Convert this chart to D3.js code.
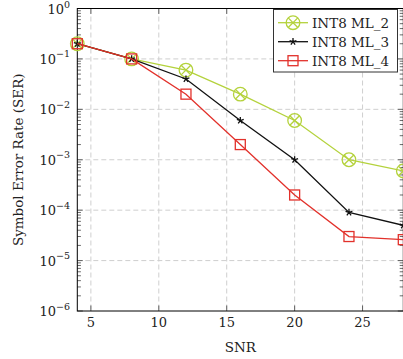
<!DOCTYPE html>
<html><head><meta charset="utf-8">
<script src="https://cdn.jsdelivr.net/npm/d3@7"></script>
<style>
html,body{margin:0;padding:0;background:#fff;}
svg{display:block;}
text{font-family:"DejaVu Serif",serif;fill:#222;}
</style></head>
<body>
<script>
const snr = [4, 8, 12, 16, 20, 24, 28];
const ml2 = [0.2, 0.1, 0.06, 0.02, 0.006, 0.001, 0.0006];
const ml3 = [0.2, 0.1, 0.04, 0.006, 0.001, 9e-5, 5e-5];
const ml4 = [0.2, 0.1, 0.02, 0.002, 2e-4, 3e-5, 2.6e-5];
const seriesNames = ["INT8 ML_2", "INT8 ML_3", "INT8 ML_4"];
const xTicks = [5, 10, 15, 20, 25];
const yExps = [0, -1, -2, -3, -4, -5, -6];

const W = 403, H = 359;
const L = 77.3, R = 403.3, T = 8.5, B = 311;
const svg = d3.select("body").append("svg").attr("width", W).attr("height", H);

const x = d3.scaleLinear().domain([4, 28]).range([L, R]);
const y = d3.scaleLog().domain([1e-6, 1]).range([B, T]);

const colors = ["#b4d23c", "#111111", "#e2312b"];
const data = [ml2, ml3, ml4];

// grid
const grid = svg.append("g").attr("stroke", "#cfcfcf").attr("stroke-width", 1).attr("stroke-dasharray", "5,3");
xTicks.forEach(t => grid.append("line").attr("x1", x(t)).attr("x2", x(t)).attr("y1", T).attr("y2", B));
yExps.slice(1, -1).forEach(e => grid.append("line").attr("x1", L).attr("x2", R).attr("y1", y(Math.pow(10, e))).attr("y2", y(Math.pow(10, e))));

// ticks
const tk = svg.append("g").attr("stroke", "#444").attr("stroke-width", 0.8);
xTicks.forEach(t => {
  tk.append("line").attr("x1", x(t)).attr("x2", x(t)).attr("y1", B).attr("y2", B - 5.5);
  tk.append("line").attr("x1", x(t)).attr("x2", x(t)).attr("y1", T).attr("y2", T + 5.5);
});
yExps.forEach(e => {
  const v = Math.pow(10, e);
  tk.append("line").attr("x1", L).attr("x2", L + 5.5).attr("y1", y(v)).attr("y2", y(v));
  tk.append("line").attr("x1", R).attr("x2", R - 5.5).attr("y1", y(v)).attr("y2", y(v));
  if (e > -6) {
    for (let m = 2; m <= 9; m++) {
      const mv = v / 10 * m;
      tk.append("line").attr("x1", L).attr("x2", L + 3.6).attr("y1", y(mv)).attr("y2", y(mv));
      tk.append("line").attr("x1", R).attr("x2", R - 3.6).attr("y1", y(mv)).attr("y2", y(mv));
    }
  }
});

// axes frame
const fr = svg.append("g").attr("stroke", "#000").attr("stroke-width", 1).attr("fill", "none");
fr.append("rect").attr("x", L).attr("y", T).attr("width", R - L).attr("height", B - T);

// tick labels
xTicks.forEach(t => svg.append("text").attr("x", x(t)).attr("y", B + 16).attr("text-anchor", "middle")
  .attr("font-size", 13).text(t));
yExps.forEach(e => {
  const tx = svg.append("text").attr("x", 70).attr("y", y(Math.pow(10, e)) + 5).attr("text-anchor", "end").attr("font-size", 13);
  tx.append("tspan").text("10");
  tx.append("tspan").attr("dy", e === 0 ? -5.5 : -6.5).attr("font-size", 9.5).text(e === 0 ? "0" : "\u2212" + (-e));
});

// axis labels
svg.append("text").attr("x", (L + R) / 2).attr("y", 352).attr("text-anchor", "middle").attr("font-size", 13.5).text("SNR");
svg.append("text").attr("transform", `translate(23,${(T + B) / 2}) rotate(-90)`).attr("text-anchor", "middle")
  .attr("font-size", 13.5).text("Symbol Error Rate (SER)");

// markers
function otimes(g, cx, cy, c) {
  const r = 6.8, d = r * Math.SQRT1_2;
  g.append("circle").attr("cx", cx).attr("cy", cy).attr("r", r).attr("fill", "none").attr("stroke", c).attr("stroke-width", 1.3);
  g.append("line").attr("x1", cx - d).attr("y1", cy - d).attr("x2", cx + d).attr("y2", cy + d).attr("stroke", c).attr("stroke-width", 1.3);
  g.append("line").attr("x1", cx - d).attr("y1", cy + d).attr("x2", cx + d).attr("y2", cy - d).attr("stroke", c).attr("stroke-width", 1.3);
}
function star(g, cx, cy, c) {
  const r = 3.6;
  let p = "";
  for (let k = 0; k < 5; k++) {
    const a = -Math.PI / 2 + k * 2 * Math.PI / 5;
    p += `M${cx},${cy}L${cx + r * Math.cos(a)},${cy + r * Math.sin(a)}`;
  }
  g.append("path").attr("d", p).attr("stroke", c).attr("stroke-width", 1.3).attr("fill", "none");
}
function square(g, cx, cy, c) {
  const s = 10;
  g.append("rect").attr("x", cx - s / 2).attr("y", cy - s / 2).attr("width", s).attr("height", s)
    .attr("fill", "none").attr("stroke", c).attr("stroke-width", 1.3);
}
const markers = [otimes, star, square];

const line = d3.line().x((d, i) => x(snr[i])).y(d => y(d));
const plot = svg.append("g");
data.forEach((vals, si) => {
  plot.append("path").attr("d", line(vals)).attr("fill", "none").attr("stroke", colors[si]).attr("stroke-width", 1.3);
  vals.forEach((v, i) => markers[si](plot, x(snr[i]), y(v), colors[si]));
});

// legend
const lg = svg.append("g");
lg.append("rect").attr("x", 273.5).attr("y", 9.5).attr("width", 124).attr("height", 62.5)
  .attr("fill", "#fff").attr("stroke", "#333").attr("stroke-width", 1);
seriesNames.forEach((n, i) => {
  const yy = 22.7 + i * 19;
  lg.append("line").attr("x1", 278).attr("x2", 308).attr("y1", yy).attr("y2", yy).attr("stroke", colors[i]).attr("stroke-width", 1.3);
  markers[i](lg, 293, yy, colors[i]);
  lg.append("text").attr("x", 312).attr("y", yy + 5).attr("font-size", 13.5).text(n);
});
</script>
</body></html>
